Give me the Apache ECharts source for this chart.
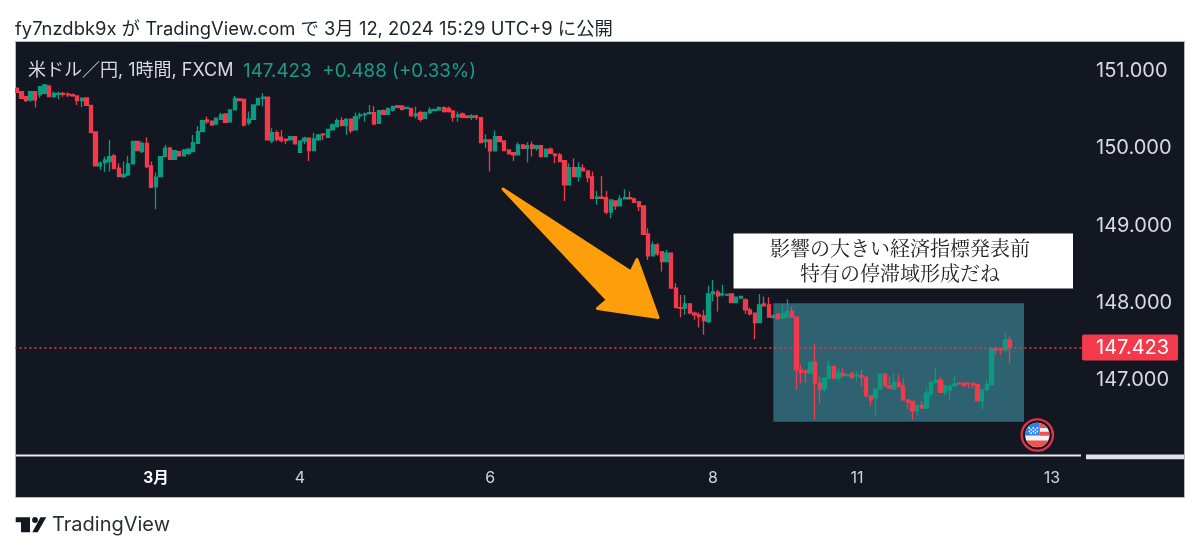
<!DOCTYPE html>
<html><head><meta charset="utf-8">
<style>html,body{margin:0;padding:0;background:#fff}#c{width:1200px;height:553px}</style>
<script src="https://cdn.jsdelivr.net/npm/echarts@6/dist/echarts.min.js"></script>
</head><body><div id="c"></div>
<script>
const opens=[150.776,150.733,150.668,150.625,150.733,150.690,150.711,150.806,150.668,150.698,
150.711,150.702,150.694,150.677,150.616,150.65,150.556,150.21,149.771,149.814,
149.827,149.90,149.741,149.633,149.655,149.797,150.09,149.957,150.064,149.771,
149.504,149.633,149.892,150.0,149.857,149.957,149.90,149.935,149.957,150.064,
150.215,150.366,150.349,150.314,150.375,150.444,150.34,150.496,150.638,150.633,
150.332,150.375,150.56,150.646,150.66,150.094,150.202,150.142,150.116,150.107,
150.15,149.948,150.094,150.129,149.97,150.107,150.185,150.142,150.237,150.28,
150.357,150.293,150.375,150.237,150.418,150.431,150.452,150.461,150.323,150.487,
150.439,150.495,150.547,150.547,150.517,150.517,150.418,150.461,150.388,150.461,
150.487,150.495,150.526,150.517,150.483,150.409,150.444,150.418,150.401,150.418,
150.396,150.086,150.107,149.965,150.15,150.094,149.978,149.943,149.913,150.043,
150.0,150.043,150.0,150.034,149.892,149.987,149.922,149.913,149.84,149.525,
149.75,149.633,149.741,149.706,149.629,149.353,149.366,149.361,149.172,149.318,
149.254,149.344,149.361,149.344,149.31,149.254,148.891,148.607,148.749,148.663,
148.534,148.641,148.189,147.938,147.93,147.986,147.865,147.844,147.83,147.757,
148.115,148.137,148.102,148.098,148.115,148.003,148.059,148.038,147.908,147.865,
147.744,147.986,147.973,147.809,147.852,147.80,147.813,147.887,147.813,147.132,
147.119,147.089,147.227,146.96,146.882,147.024,147.175,147.024,147.08,147.059,
147.08,147.054,147.054,147.037,146.796,146.766,146.882,147.076,146.925,146.882,
146.968,146.925,146.744,146.722,146.606,146.671,146.636,146.822,146.968,146.994,
146.839,146.873,146.925,146.96,146.96,146.96,146.955,146.942,146.731,146.873,
146.938,147.412,147.403,147.39,147.52];
const closes=[150.724,150.646,150.616,150.733,150.625,150.797,150.819,150.668,150.711,150.711,
150.698,150.690,150.677,150.616,150.646,150.556,150.202,149.771,149.806,149.849,
149.892,149.737,149.633,149.663,149.797,150.09,149.97,150.064,149.762,149.495,
149.625,149.892,150.0,149.857,149.97,149.90,149.978,149.987,150.073,150.215,
150.357,150.34,150.30,150.388,150.431,150.336,150.496,150.646,150.616,150.30,
150.375,150.56,150.646,150.66,150.107,150.202,150.116,150.099,150.099,150.15,
150.056,150.094,150.129,149.97,150.12,150.172,150.172,150.245,150.301,150.357,
150.293,150.375,150.228,150.409,150.431,150.444,150.461,150.314,150.487,150.439,
150.517,150.539,150.53,150.504,150.53,150.418,150.444,150.375,150.465,150.495,
150.504,150.526,150.474,150.474,150.401,150.431,150.401,150.396,150.418,150.401,
150.073,150.107,149.965,150.15,150.086,149.97,149.926,149.913,150.043,150.0,
150.034,150.0,150.034,149.892,149.987,149.935,149.905,149.827,149.525,149.75,
149.633,149.75,149.706,149.62,149.353,149.366,149.353,149.172,149.331,149.254,
149.344,149.361,149.344,149.301,149.245,148.887,148.607,148.749,148.633,148.534,
148.641,148.189,147.938,147.93,147.986,147.865,147.844,147.822,147.77,148.115,
148.145,148.09,148.115,148.107,148.003,148.072,148.081,147.908,147.856,147.744,
147.973,147.96,147.813,147.83,147.792,147.856,147.887,147.813,147.132,147.098,
147.098,147.227,146.96,146.882,147.024,147.175,147.024,147.089,147.054,147.072,
147.033,147.067,147.037,146.796,146.744,146.882,147.076,146.925,146.895,146.968,
146.916,146.744,146.714,146.606,146.671,146.636,146.83,146.968,146.994,146.839,
146.925,146.925,146.947,146.951,146.925,146.951,146.942,146.731,146.873,146.938,
147.412,147.39,147.39,147.52,147.425];
const lows=[150.720,150.64,150.60,150.603,150.526,150.655,150.70,150.665,150.655,150.633,
150.668,150.66,150.668,150.56,150.53,150.55,150.195,149.765,149.72,149.693,
149.698,149.73,149.625,149.612,149.642,149.79,149.96,149.935,149.741,149.482,
149.21,149.625,149.885,149.85,149.85,149.895,149.895,149.913,149.95,150.06,
150.21,150.314,150.295,150.31,150.37,150.33,150.335,150.49,150.61,150.28,
150.30,150.37,150.555,150.539,150.10,150.064,150.086,150.073,150.055,150.10,
150.05,149.94,150.056,149.836,149.965,150.10,150.107,150.135,150.23,150.275,
150.285,150.172,150.194,150.23,150.375,150.344,150.431,150.31,150.318,150.431,
150.435,150.474,150.517,150.487,150.51,150.415,150.388,150.344,150.385,150.444,
150.48,150.49,150.461,150.461,150.344,150.344,150.388,150.39,150.366,150.366,
150.065,150.0,149.698,149.96,150.08,149.965,149.92,149.836,149.905,149.995,
149.814,149.892,149.97,149.885,149.885,149.93,149.805,149.818,149.318,149.52,
149.628,149.568,149.70,149.56,149.348,149.267,149.348,149.146,149.094,149.202,
149.25,149.34,149.34,149.295,149.189,148.88,148.555,148.60,148.607,148.404,
148.53,148.185,147.935,147.809,147.844,147.86,147.779,147.68,147.585,147.736,
148.016,147.887,148.08,148.09,147.998,147.998,148.05,147.856,147.835,147.529,
147.74,147.955,147.808,147.80,147.787,147.795,147.81,147.808,146.873,146.96,
146.96,147.085,146.485,146.701,146.852,147.02,147.02,146.981,147.05,147.05,
147.025,146.981,146.916,146.79,146.666,146.537,146.878,146.92,146.89,146.878,
146.91,146.74,146.623,146.485,146.537,146.63,146.63,146.787,146.96,146.835,
146.80,146.744,146.92,146.945,146.92,146.895,146.895,146.725,146.623,146.87,
146.935,147.326,147.326,147.356,147.218];
const highs=[150.789,150.74,150.68,150.735,150.74,150.80,150.832,150.815,150.733,150.733,
150.728,150.72,150.71,150.68,150.66,150.655,150.56,150.215,149.827,149.892,
150.107,149.926,149.806,149.827,149.90,150.095,150.095,150.086,150.142,149.827,
149.685,149.895,150.043,150.02,149.98,149.965,149.985,150.0,150.172,150.289,
150.36,150.41,150.35,150.39,150.46,150.45,150.50,150.676,150.645,150.64,
150.474,150.565,150.65,150.711,150.665,150.258,150.228,150.237,150.129,150.16,
150.155,150.10,150.15,150.135,150.202,150.185,150.194,150.25,150.323,150.388,
150.40,150.38,150.38,150.461,150.461,150.461,150.56,150.547,150.49,150.504,
150.52,150.552,150.56,150.55,150.535,150.52,150.539,150.487,150.47,150.53,
150.51,150.539,150.539,150.539,150.49,150.474,150.461,150.425,150.444,150.435,
150.40,150.18,150.11,150.228,150.155,150.10,149.985,149.95,150.073,150.05,
150.077,150.086,150.04,150.04,149.99,150.012,149.935,149.939,149.845,149.805,
149.87,149.818,149.793,149.71,149.698,149.448,149.642,149.448,149.335,149.32,
149.387,149.469,149.439,149.361,149.315,149.26,148.965,148.792,148.771,148.67,
148.685,148.645,148.253,148.102,148.102,147.99,147.887,147.874,147.908,148.219,
148.296,148.167,148.232,148.12,148.12,148.08,148.09,148.06,147.938,147.87,
148.115,148.081,148.072,147.85,147.86,147.973,148.046,147.951,147.82,147.197,
147.125,147.23,147.477,147.046,147.03,147.253,147.18,147.154,147.154,147.08,
147.11,147.11,147.132,147.04,146.80,146.885,147.08,147.08,147.046,147.08,
147.067,147.024,146.75,146.73,146.675,146.731,146.895,146.97,147.145,147.037,
146.93,146.93,147.046,146.965,146.965,146.965,146.96,146.945,146.88,147.0,
147.42,147.425,147.41,147.606,147.572];
const tickLabels=['3月','4','6','8','11','13'];
const tickBars=[30,61,102,150,181,223];
const barSlots=230;
const lastPrice=147.423;
const zonePrices=[147.994,146.46];
const zoneBars=[163,217.45];
const headerText='fy7nzdbk9x が TradingView.com で 3月 12, 2024 15:29 UTC+9 に公開';
const symbolText='米ドル／円, 1時間, FXCM';
const quoteText='147.423  +0.488 (+0.33%)';
const noteLines=['影響の大きい経済指標発表前','特有の停滞域形成だね'];

const SANS='Inter,"Noto Sans CJK JP",sans-serif';
const categories=Array.from({length:barSlots},(_,i)=>{const k=tickBars.indexOf(i);return k<0?'':tickLabels[k];});
const candles=opens.map((o,i)=>[o,closes[i],lows[i],highs[i]]);

const cx=1037.3,cy=435,r=12.2;
function band(y1,y2,xMin){const pts=[];const n=10;
  for(let i=0;i<=n;i++){const y=y1+(y2-y1)*i/n;pts.push([cx+Math.sqrt(Math.max(0,r*r-y*y)),cy+y]);}
  for(let i=n;i>=0;i--){const y=y1+(y2-y1)*i/n;let x=-Math.sqrt(Math.max(0,r*r-y*y));if(xMin!==undefined)x=Math.max(x,xMin);pts.push([cx+x,cy+y]);}
  return pts;}
function blueCorner(){const pts=[];const xr=2.5,yb=0.5;
  for(let a=0;a<=12;a++){const t=Math.PI+ (Math.PI/2+0.2)*a/12;const x=r*Math.cos(t),y=r*Math.sin(t);if(x<=xr)pts.push([cx+x,cy+y]);}
  pts.push([cx+xr,cy+yb]);pts.push([cx-Math.sqrt(r*r-yb*yb),cy+yb]);return pts;}
const flag=[
 {type:'circle',z:50,shape:{cx,cy,r:15.6},style:{fill:'#131722',stroke:'#e53045',lineWidth:2.4}},
 {type:'circle',z:51,shape:{cx,cy,r},style:{fill:'#f4f4f6'}},
 {type:'polygon',z:52,shape:{points:band(-11.6,-7,2.5)},style:{fill:'#ef5350'}},
 {type:'polygon',z:52,shape:{points:band(-3.2,0.8,2.5)},style:{fill:'#ef5350'}},
 {type:'polygon',z:52,shape:{points:band(5.6,12.2)},style:{fill:'#ef5350'}},
 {type:'polygon',z:53,shape:{points:blueCorner()},style:{fill:'#2f80ed'}}
];
[[-8,-7],[-4,-7],[0,-7],[-8,-3.5],[-4,-3.5],[0,-3.5],[-6,-5.2],[-2,-5.2],[-6,-1.8],[-2,-1.8]].forEach(p=>
 flag.push({type:'circle',z:54,shape:{cx:cx+p[0],cy:cy+p[1],r:0.9},style:{fill:'#fff'}}));

const priceLine={color:'#f23a4c',type:[2,3],width:1.6,opacity:1};
const chart=echarts.init(document.getElementById('c'),null,{renderer:'canvas'});
chart.setOption({
 animation:false,
 backgroundColor:'#ffffff',
 grid:{left:14.4,right:117.94,top:42,bottom:95.7,containLabel:false},
 xAxis:{type:'category',data:categories,boundaryGap:true,
  axisLine:{show:false},axisTick:{show:false},splitLine:{show:false},
  axisLabel:{interval:(i,v)=>v!=='',margin:13,
   formatter:v=>v==='3月'?'{b|3月}':v,
   color:'#d1d4dc',fontFamily:SANS,fontSize:16,
   rich:{b:{fontWeight:'bold',color:'#ffffff',fontFamily:SANS,fontSize:15.5}}}},
 yAxis:{type:'value',position:'right',min:146,max:151.375,interval:1,scale:true,
  axisLine:{show:false},axisTick:{show:false},splitLine:{show:false},
  axisLabel:{showMinLabel:false,showMaxLabel:false,margin:14,align:'left',padding:[5,0,0,0],
   color:'#d8dae0',fontFamily:SANS,fontSize:20,formatter:v=>v.toFixed(3)}},
 series:[{type:'candlestick',data:candles,barWidth:3.8,clip:false,z:3,
  itemStyle:{color:'#0c9a81',color0:'#f23a4c',borderColor:'#0c9a81',borderColor0:'#f23a4c',borderWidth:1.3},
  markArea:{silent:true,z:1,itemStyle:{color:'#2f6270',opacity:1},
   data:[[{xAxis:zoneBars[0],yAxis:zonePrices[0]},{xAxis:zoneBars[1],yAxis:zonePrices[1]}]]},
  markLine:{silent:true,symbol:'none',z:5,
   lineStyle:priceLine,
   label:{show:true,position:'end',distance:0,formatter:()=>lastPrice.toFixed(3),
    color:'#ffffff',fontFamily:SANS,fontSize:20,backgroundColor:'#f23a4c',borderRadius:2,
    padding:[4,8,2,14],width:74,height:20,align:'left'},
   data:[{yAxis:lastPrice,lineStyle:priceLine}]}
 }],
 graphic:[
  {type:'rect',z:-10,shape:{x:15.5,y:41.5,width:1169,height:456},style:{fill:'#131722',stroke:'#b4b7bf',lineWidth:1}},
  {type:'rect',z:40,shape:{x:0,y:42,width:15,height:416},style:{fill:'#ffffff'}},
  {type:'rect',z:40,shape:{x:16,y:454.6,width:1065,height:1.8},style:{fill:'#e8e9ee'}},
  {type:'rect',z:40,shape:{x:1086,y:454.6,width:98,height:4.6},style:{fill:'#e0e2ea'}},
  {type:'text',z:60,style:{text:headerText,x:15,y:29,font:'18.4px '+SANS,fill:'#1e222d',verticalAlign:'middle'}},
  {type:'text',z:60,style:{text:symbolText,x:28,y:71,font:'18px '+SANS,fill:'#d8dae0',verticalAlign:'middle'}},
  {type:'text',z:60,style:{text:quoteText,x:243,y:71,font:'18.8px '+SANS,fill:'#1a9c85',verticalAlign:'middle'}},
  {type:'polygon',z:30,shape:{points:[[503,189],[631,272],[637,259.5],[658,317.5],[597.5,308.5],[607.5,300]]},
   style:{fill:'#ff9e0b',stroke:'#ff9e0b',lineWidth:3,lineJoin:'round'}},
  {type:'rect',z:30,shape:{x:733.5,y:233.5,width:339.5,height:55},style:{fill:'#ffffff'}},
  {type:'text',z:31,style:{text:noteLines[0],x:900,y:248,font:'20px "Noto Serif CJK JP","Noto Sans CJK JP",serif',fill:'#222222',align:'center',verticalAlign:'middle'}},
  {type:'text',z:31,style:{text:noteLines[1],x:900,y:273,font:'20px "Noto Serif CJK JP","Noto Sans CJK JP",serif',fill:'#222222',align:'center',verticalAlign:'middle'}},
  ...flag,
  {type:'polygon',z:60,shape:{points:[[15.7,517.3],[30,517.3],[30,532.3],[21,532.3],[21,522.3],[15.7,522.3]]},style:{fill:'#131722'}},
  {type:'circle',z:60,shape:{cx:35,cy:520,r:2.9},style:{fill:'#131722'}},
  {type:'polygon',z:60,shape:{points:[[40.5,517.3],[46.3,517.3],[37.7,532.3],[32.3,532.3]]},style:{fill:'#131722'}},
  {type:'text',z:60,style:{text:'TradingView',x:52,y:525,font:'20px '+SANS,fill:'#2a2e39',verticalAlign:'middle'}}
 ]
});
</script></body></html>
